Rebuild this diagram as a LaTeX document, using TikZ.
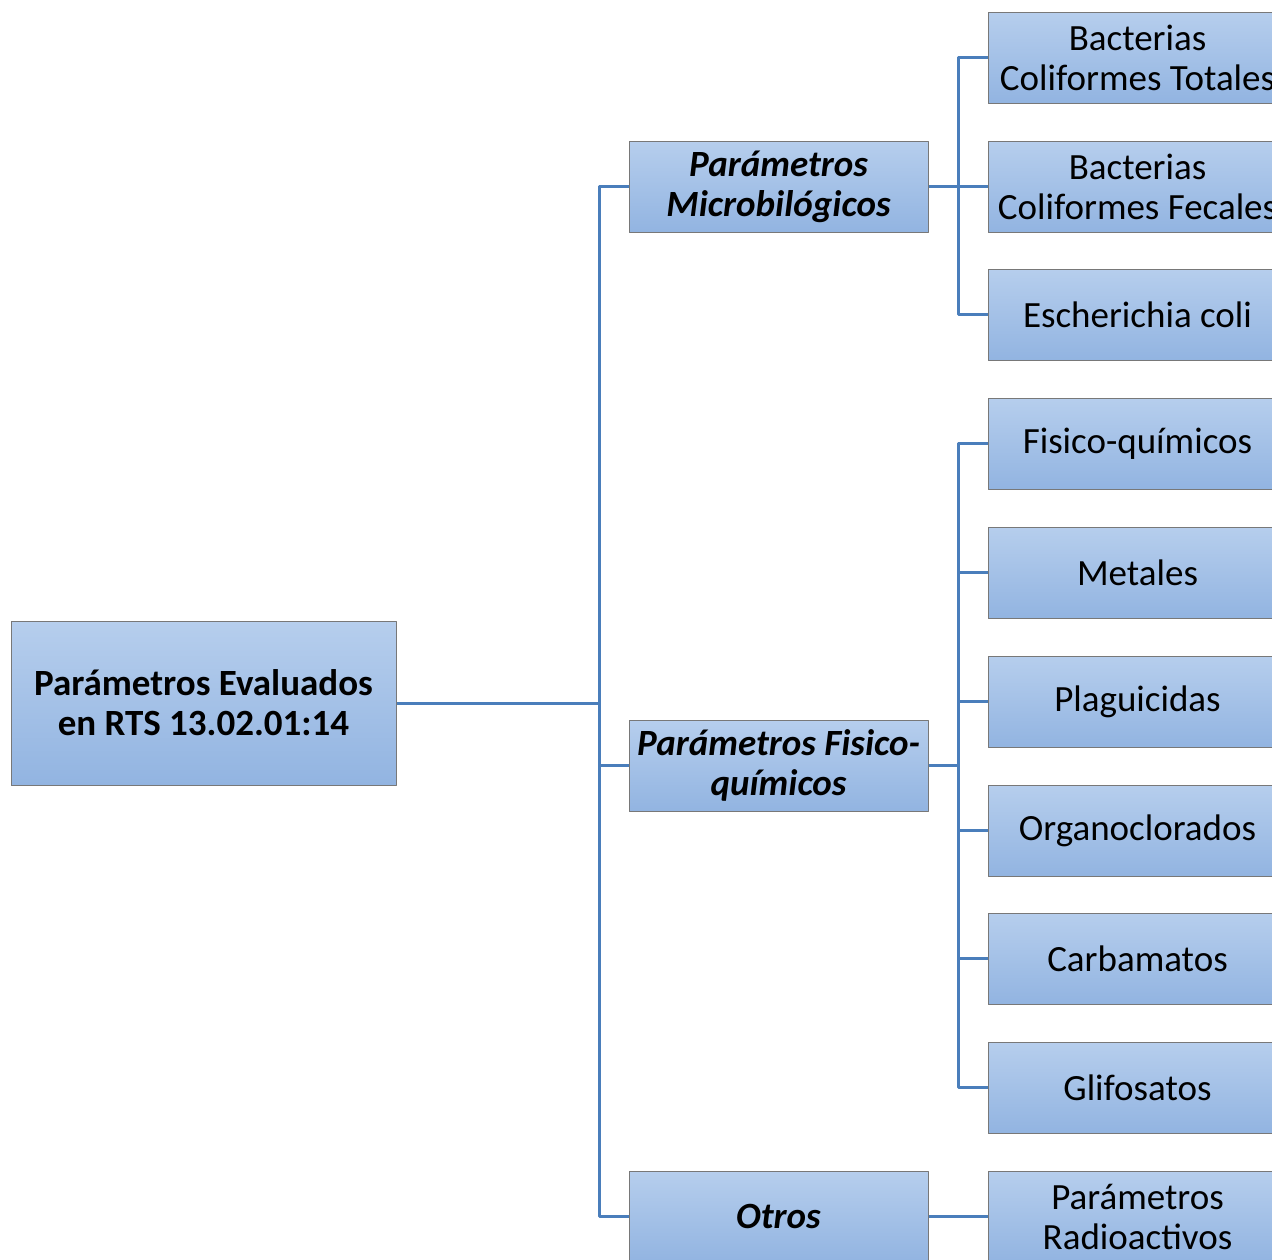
\documentclass[tikz,border=0pt]{standalone}
\usepackage{fontspec}
\setmainfont{Carlito}
\definecolor{boxtop}{RGB}{182,206,237}
\definecolor{boxbot}{RGB}{146,180,225}
\definecolor{boxline}{RGB}{120,120,120}
\definecolor{linkblue}{RGB}{74,126,187}
\begin{document}
\begin{tikzpicture}[x=1pt, y=-1pt, line join=round,
    box/.style={draw=boxline, line width=1pt, top color=boxtop, bottom color=boxbot,
      minimum width=299pt, minimum height=91pt, inner sep=0pt, align=center,
      font=\fontsize{37}{40}\selectfont},
    conn/.style={draw=linkblue, line width=3pt}]
  \useasboundingbox (0,0) rectangle (1272,1259);
  \clip (0,0) rectangle (1272,1259);
  % root
  \node[box, minimum width=385pt, minimum height=164pt, font=\fontsize{37}{40}\selectfont\bfseries]
    (root) at (203.5,703) {Parámetros Evaluados\\en RTS 13.02.01:14};
  % second level
  \node[box, font=\fontsize{37}{40}\selectfont\bfseries\itshape] (micro) at (778.5,186.5) {Parámetros\\Microbilógicos};
  \node[box, font=\fontsize{37}{40}\selectfont\bfseries\itshape] (fisico) at (778.5,765.5) {Parámetros Fisico-\\químicos};
  \node[box, font=\fontsize{37}{40}\selectfont\bfseries\itshape] (otros) at (778.5,1216.5) {Otros};
  % third level
  \foreach \n/\y/\t in {bt/57.5/{Bacterias\\Coliformes Totales},
      bf/186.5/{Bacterias\\Coliformes Fecales},
      ec/314.5/{Escherichia coli},
      fq/443.5/{Fisico-químicos},
      me/572.5/{Metales},
      pl/701.5/{Plaguicidas},
      oc/830.5/{Organoclorados},
      ca/958.5/{Carbamatos},
      gl/1087.5/{Glifosatos},
      ra/1216.5/{Parámetros\\Radioactivos}}
    \node[box] (\n) at (1137.5,\y) {\t};
  % connectors
  \coordinate (bus) at (599,703);
  \draw[conn] (root.east) -- (bus);
  \foreach \n in {micro,fisico,otros}
    \draw[conn] (bus) |- (\n.west);
  \foreach \n in {bt,bf,ec}
    \draw[conn] (micro.east) -- ++(30,0) |- (\n.west);
  \foreach \n in {fq,me,pl,oc,ca,gl}
    \draw[conn] (fisico.east) -- ++(30,0) |- (\n.west);
  \draw[conn] (otros.east) -- (ra.west);
\end{tikzpicture}
\end{document}
